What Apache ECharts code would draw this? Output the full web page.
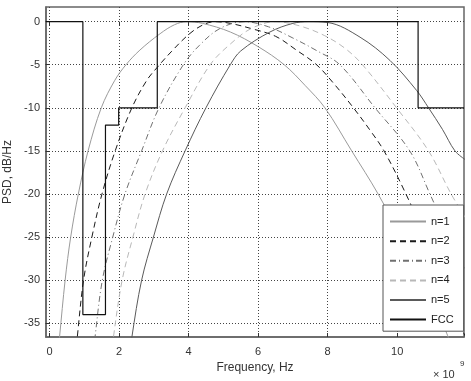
<!DOCTYPE html>
<html>
<head>
<meta charset="utf-8">
<script src="https://cdn.jsdelivr.net/npm/echarts@6/dist/echarts.min.js"></script>
<style>html,body{margin:0;padding:0;background:#fff;}#c{width:471px;height:381px;}</style>
</head>
<body>
<div id="c"></div>
<script>
// Frequency in units of 1e9 Hz, PSD in dB/Hz (normalized)
const xTicks = [0, 2, 4, 6, 8, 10];
const yTicks = [-35, -30, -25, -20, -15, -10, -5, 0];

const n1Freq = [0.21, 0.29, 0.45, 0.61, 0.83, 1.11, 1.49, 1.88, 2.2, 2.6, 3.18, 3.6, 3.95, 4.4, 5.2, 6.0, 6.75, 7.35, 7.92, 8.69, 9.45, 10.1, 10.7, 11.3, 11.6];
const n1Psd  = [-40, -36.6, -30, -25, -20, -15, -10, -6.8, -5, -3.3, -1.4, -0.35, 0, -0.2, -1.2, -2.9, -5, -7.4, -10, -15, -20, -25, -30, -35, -38];

const n2Freq = [0.72, 0.80, 0.98, 1.22, 1.51, 1.89, 2.37, 2.8, 3.1, 3.5, 4.0, 4.4, 4.76, 5.2, 5.8, 6.5, 7.1, 7.68, 8.2, 8.74, 9.2, 9.62, 10.25, 10.8, 11.3, 11.8, 12.0];
const n2Psd  = [-40, -36.6, -30, -25, -20, -15, -10, -6.8, -5.3, -3.5, -1.5, -0.4, 0, -0.2, -0.8, -1.7, -3.3, -5, -7.3, -10, -12.5, -15, -20, -25, -30, -35, -37];

const n3Freq = [1.22, 1.31, 1.52, 1.82, 2.17, 2.65, 3.15, 3.85, 4.3, 4.9, 5.6, 6.3, 7.0, 7.7, 8.35, 9.36, 10.36, 10.94, 11.5, 12.0];
const n3Psd  = [-40, -36.6, -30, -25, -20, -15, -10, -5, -2.8, -0.8, 0, -0.6, -1.9, -3.4, -5, -10, -15, -20, -25, -29];

const n4Freq = [1.75, 1.84, 2.09, 2.4, 2.75, 3.25, 3.9, 4.62, 5.2, 5.8, 6.5, 7.2, 7.9, 8.5, 9.0, 9.98, 10.9, 11.55, 12.0];
const n4Psd  = [-40, -36.6, -30, -25, -20, -15, -10, -5, -2.6, -0.8, 0, -0.5, -1.6, -3.1, -5, -10, -15, -20, -23];

const n5Freq = [2.27, 2.37, 2.65, 2.99, 3.37, 3.9, 4.5, 5.2, 5.5, 6.34, 7.0, 7.45, 8.0, 8.93, 9.79, 10.56, 10.9, 11.3, 11.66, 11.95];
const n5Psd  = [-40, -36.6, -30, -25, -20, -15, -10, -5, -3.4, -1.2, -0.2, 0, -0.1, -1.8, -4.5, -8, -10, -12.5, -15, -16];

const fccFreq = [-0.1, 0.96, 0.96, 1.61, 1.61, 1.99, 1.99, 3.1, 3.1, 10.6, 10.6, 11.92];
const fccPsd  = [0, 0, -34, -34, -12, -12, -10, -10, 0, 0, -10, -10];

const seriesNames = ['n=1', 'n=2', 'n=3', 'n=4', 'n=5', 'FCC'];

function pairs(xs, ys) { return xs.map((x, i) => [x, ys[i]]); }

const styles = [
  {color: '#9a9a9a', type: 'solid', width: 1},
  {color: '#1a1a1a', type: [6, 4], width: 1},
  {color: '#707070', type: [6, 3, 1, 3], width: 1},
  {color: '#b8b8b8', type: [6, 4], width: 1},
  {color: '#5a5a5a', type: 'solid', width: 1},
  {color: '#111111', type: 'solid', width: 1.2}
];
const dataSets = [
  pairs(n1Freq, n1Psd), pairs(n2Freq, n2Psd), pairs(n3Freq, n3Psd),
  pairs(n4Freq, n4Psd), pairs(n5Freq, n5Psd), pairs(fccFreq, fccPsd)
];

const XMIN = -0.1, XMAX = 11.92, YMIN = -36.6, YMAX = 1.7;
const font = 'Liberation Sans, Arial, Helvetica, sans-serif';

const series = dataSets.map((d, i) => ({
  name: seriesNames[i],
  type: 'line',
  data: d,
  showSymbol: false,
  symbol: 'none',
  smooth: i < 5 ? 0.35 : false,
  clip: true,
  color: styles[i].color,
  lineStyle: styles[i],
  z: i === 5 ? 3 : 2,
  animation: false
}));

const chart = echarts.init(document.getElementById('c'), null, {renderer: 'canvas'});
chart.setOption({
  backgroundColor: '#ffffff',
  animation: false,
  grid: {left: 46, right: 7, top: 7, bottom: 44, show: true, borderColor: '#666', borderWidth: 1.5, backgroundColor: '#fff', containLabel: false, outerBoundsMode: 'none'},
  xAxis: [{
    type: 'value', min: XMIN, max: XMAX,
    name: 'Frequency, Hz', nameLocation: 'middle', nameGap: 24,
    nameTextStyle: {fontFamily: font, fontSize: 12, color: '#333'},
    axisLine: {show: true, onZero: false, lineStyle: {color: '#666', width: 1.5}},
    axisTick: {show: true, inside: true, length: 4, customValues: xTicks, lineStyle: {color: '#333'}},
    axisLabel: {customValues: xTicks, fontFamily: font, fontSize: 11, color: '#333', margin: 9},
    splitLine: {show: true, lineStyle: {color: '#444', type: [1, 2], width: 1}}
  }, {
    type: 'value', min: XMIN, max: XMAX, position: 'top',
    axisLine: {show: false},
    axisTick: {show: true, inside: true, length: 4, customValues: xTicks, lineStyle: {color: '#333'}},
    axisLabel: {show: false},
    splitLine: {show: false}
  }],
  yAxis: [{
    type: 'value', min: YMIN, max: YMAX,
    name: 'PSD, dB/Hz', nameLocation: 'middle', nameGap: 28,
    nameTextStyle: {fontFamily: font, fontSize: 12, color: '#333'},
    axisLine: {show: true, onZero: false, lineStyle: {color: '#666', width: 1.5}},
    axisTick: {show: true, inside: true, length: 4, customValues: yTicks, lineStyle: {color: '#333'}},
    axisLabel: {customValues: yTicks, fontFamily: font, fontSize: 11, color: '#333', margin: 6},
    splitLine: {show: true, lineStyle: {color: '#444', type: [1, 2], width: 1}}
  }, {
    type: 'value', min: YMIN, max: YMAX, position: 'right',
    axisLine: {show: false},
    axisTick: {show: true, inside: true, length: 4, customValues: yTicks, lineStyle: {color: '#333'}},
    axisLabel: {show: false},
    splitLine: {show: false}
  }],
  legend: {
    orient: 'vertical', left: 383, top: 205,
    data: seriesNames,
    itemWidth: 36, itemHeight: 14, itemGap: 8.4,
    padding: [11, 10, 6, 6],
    backgroundColor: '#ffffff', borderColor: '#555', borderWidth: 1,
    textStyle: {fontFamily: font, fontSize: 11, color: '#222', width: 28},
    itemStyle: {opacity: 0},
    selectedMode: false,
    z: 10
  },
  graphic: [
    {type: 'text', left: 433, top: 369, style: {text: '× 10', font: '11px ' + font, fill: '#333'}},
    {type: 'text', left: 460, top: 360, style: {text: '9', font: '8px ' + font, fill: '#333'}}
  ],
  series: series
});
</script>
</body>
</html>
